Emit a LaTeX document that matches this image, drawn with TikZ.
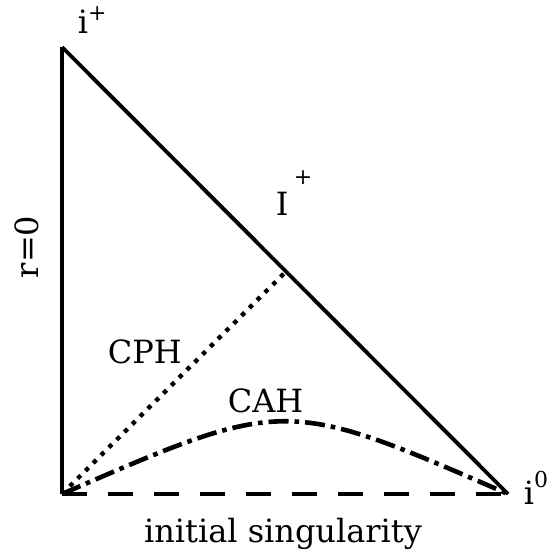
\documentclass[tikz,border=0pt]{standalone}
\usepackage{fontspec}
\setmainfont{DejaVu Serif}
\newcommand{\upidx}[2][0.62em]{\raisebox{#1}{\fontsize{22}{22}\selectfont #2}}
\begin{document}
\begin{tikzpicture}[x=1pt,y=-1pt,line width=3.8pt,
  lbl/.style={font=\fontsize{32}{36}\selectfont, inner sep=0pt}]
\useasboundingbox (0,0) rectangle (560,557);
\coordinate (T) at (62,47);
\coordinate (O) at (62,494);
\coordinate (R) at (508,494);
\coordinate (P) at (286,271.5);
\draw (O) -- (T);
\draw (T) -- (R);
\draw[dash pattern=on 25pt off 21pt] (O) -- (R);
\draw[line width=4.4pt, dash pattern=on 4.4pt off 6.6pt] (O) -- (P);
\draw[line width=4.6pt, dash pattern=on 20pt off 6pt on 4.6pt off 6pt] (O) .. controls (285,397) .. (R);
\node[lbl, anchor=base west] (ip) at (76,33) {i\upidx[0.38em]{+}};
\node[lbl, anchor=base west] (scri) at (274,215) {I\,\upidx[0.95em]{+}};
\node[lbl, anchor=base, rotate=90] (r0) at (38,247) {r=0};
\node[lbl, anchor=base west] (cph) at (106,363) {CPH};
\node[lbl, anchor=base west] (cah) at (226,412) {CAH};
\node[lbl, anchor=base west] (io) at (522,504) {i\upidx[0.53em]{0}};
\node[lbl, anchor=base] (sing) at (283,542) {initial singularity};
\end{tikzpicture}
\end{document}
